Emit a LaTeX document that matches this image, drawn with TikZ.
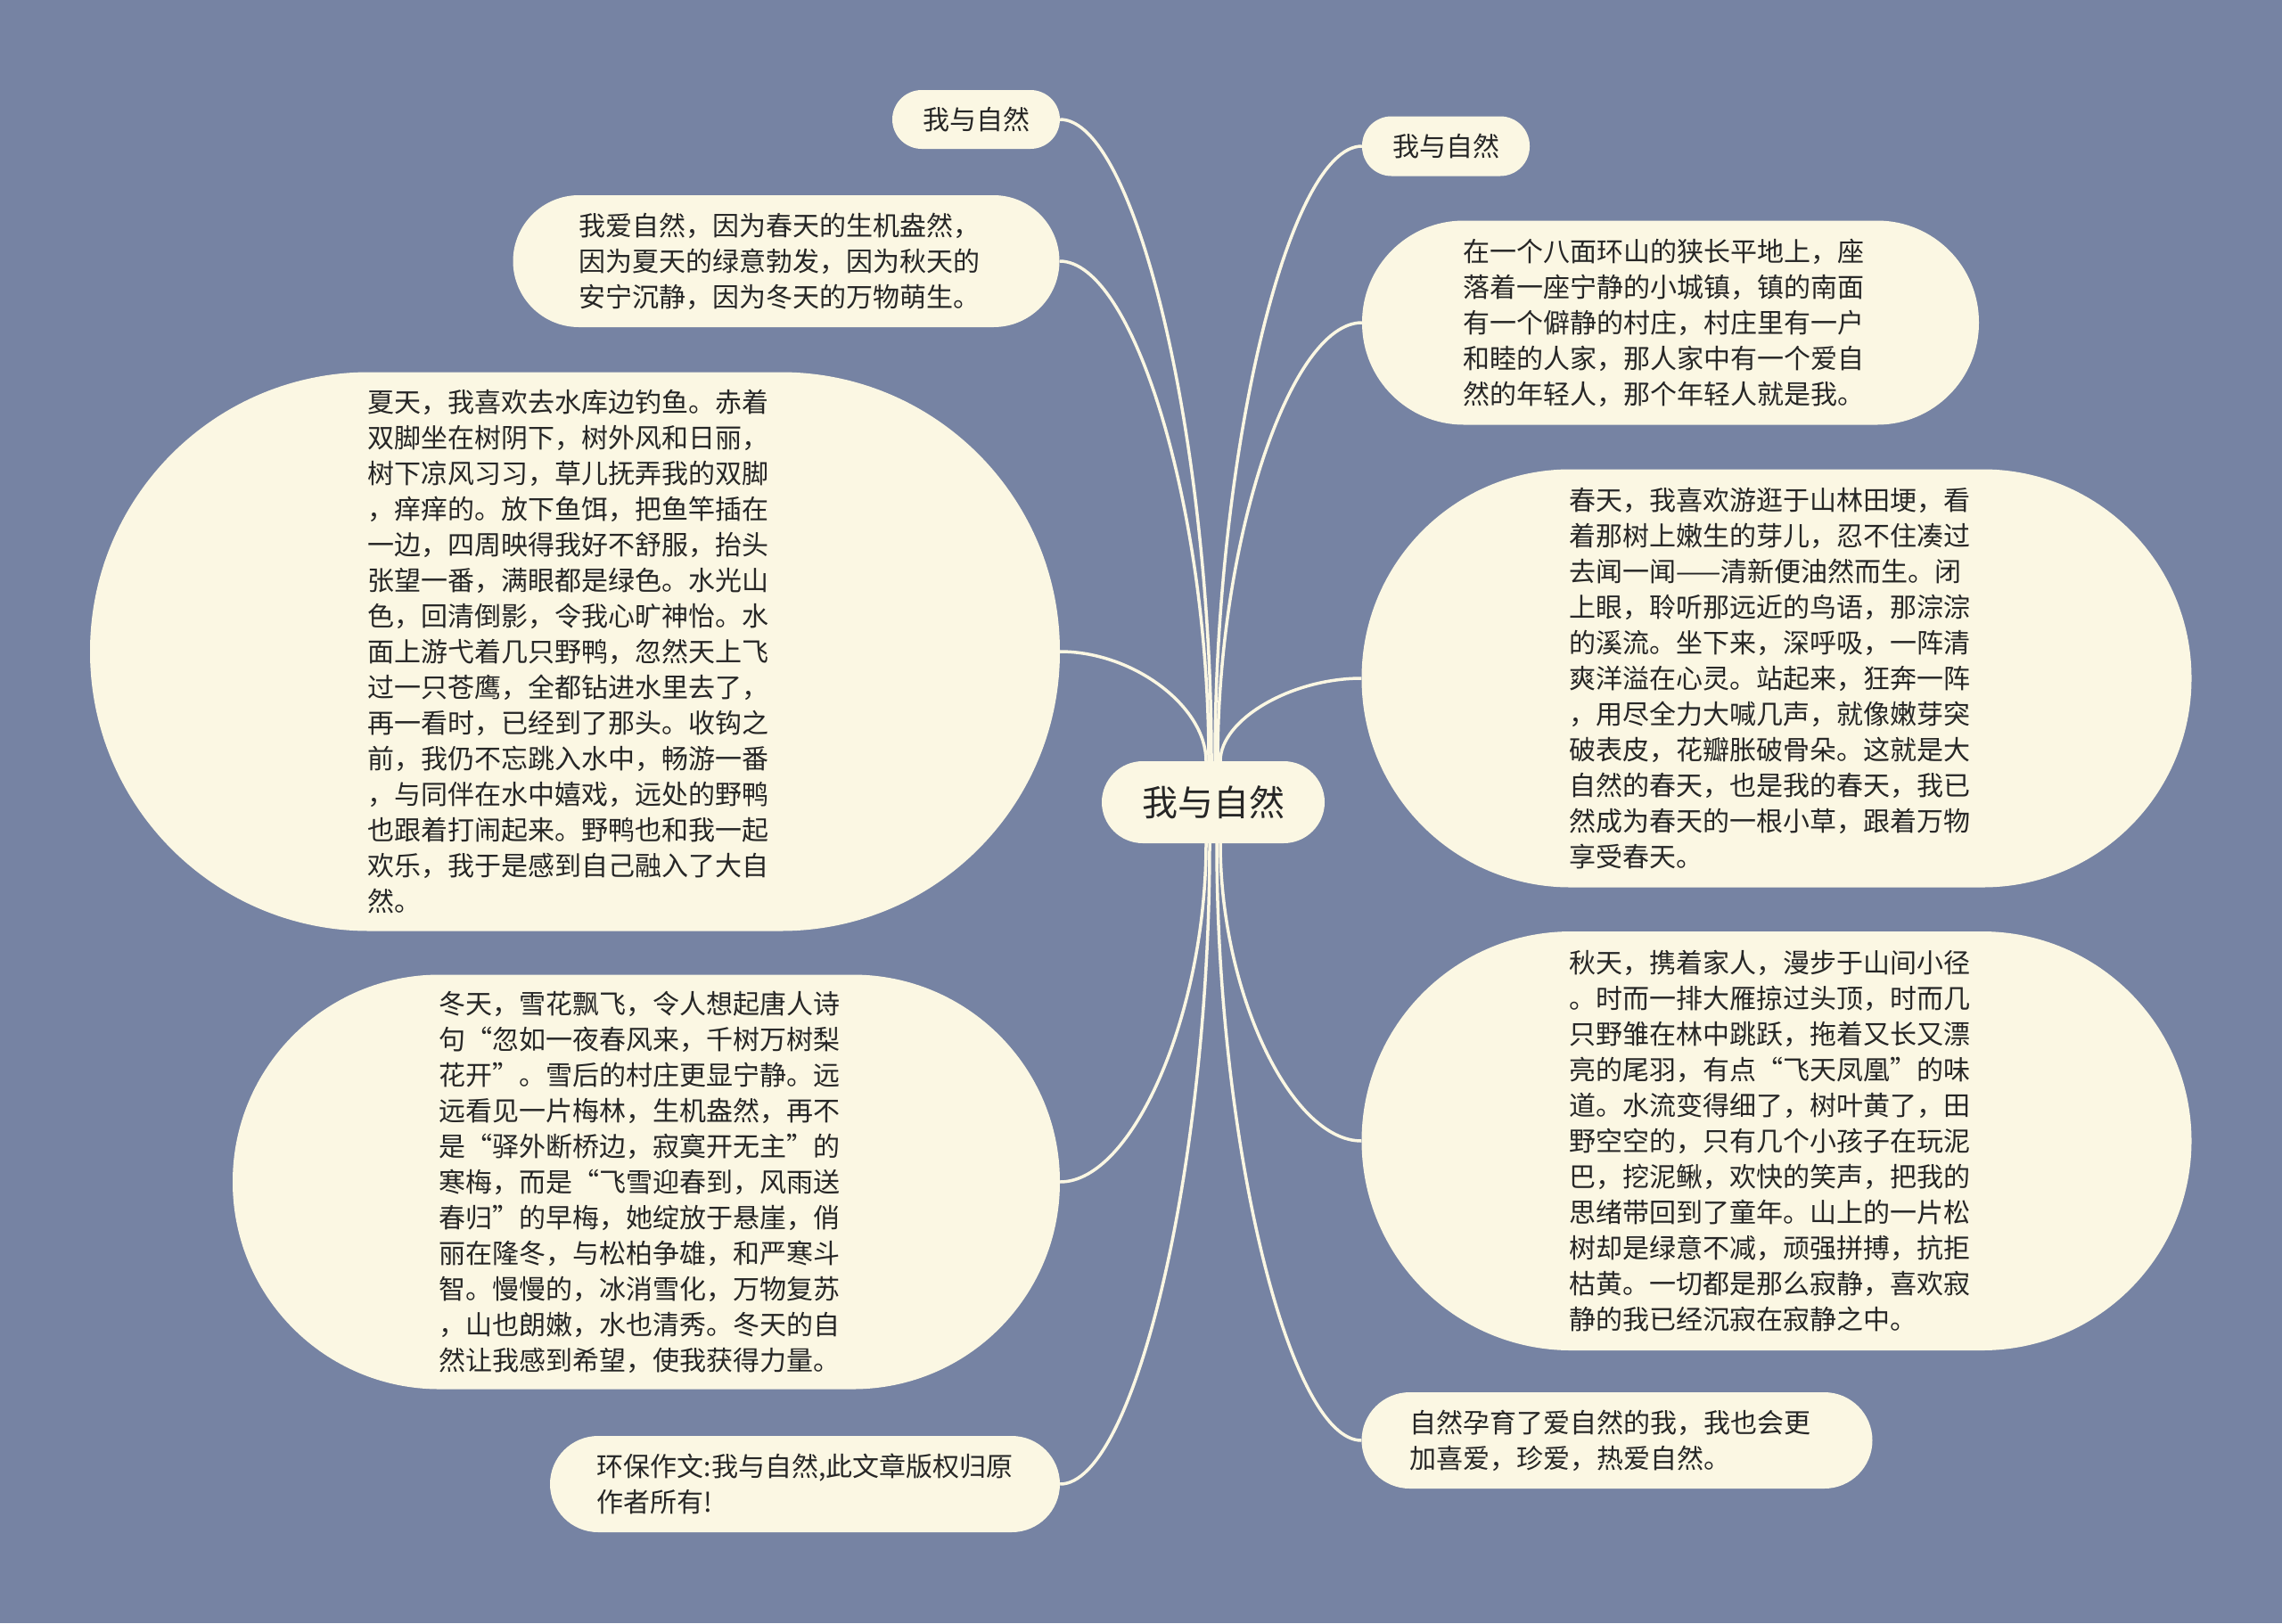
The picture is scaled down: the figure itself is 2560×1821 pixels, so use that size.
\documentclass[tikz,border=0pt]{standalone}
\usepackage{fontspec}
\usetikzlibrary{calc}
\newfontfamily\cjk{Noto Sans CJK SC}
\definecolor{bgc}{HTML}{7683A3}
\definecolor{nodefill}{HTML}{FBF7E3}
\definecolor{textc}{HTML}{262626}
\newcommand{\rpad}{\hspace*{16pt}}
\tikzset{
  topic/.style={fill=nodefill, text=textc, inner sep=0pt, align=left, font=\cjk\fontsize{30}{40}\selectfont},
  central/.style={fill=nodefill, text=textc, inner sep=0pt, font=\cjk\fontsize{40}{48}\selectfont},
  conn/.style={draw=nodefill, line width=3.5pt}
}
\begin{document}
\begin{tikzpicture}[x=1pt,y=-1pt]
\fill[bgc] (0,0) rectangle (2560,1821);
\useasboundingbox (0,0) rectangle (2560,1821);

\node[central, minimum width=250pt, minimum height=92pt, rounded corners=46pt] (C) at (1361,900) {我与自然};

\node[topic, minimum width=188pt, minimum height=66pt, rounded corners=33pt] (L1) at (1095,134) {我与自然};
\node[topic, minimum width=613pt, minimum height=148pt, rounded corners=74pt] (L2) at (882,293) {我爱自然，因为春天的生机盎然，\rpad\\因为夏天的绿意勃发，因为秋天的\\安宁沉静，因为冬天的万物萌生。};
\node[topic, minimum width=1088pt, minimum height=627pt, rounded corners=313pt] (L3) at (645,731) {夏天，我喜欢去水库边钓鱼。赤着\rpad\\双脚坐在树阴下，树外风和日丽，\\树下凉风习习，草儿抚弄我的双脚\\，痒痒的。放下鱼饵，把鱼竿插在\\一边，四周映得我好不舒服，抬头\\张望一番，满眼都是绿色。水光山\\色，回清倒影，令我心旷神怡。水\\面上游弋着几只野鸭，忽然天上飞\\过一只苍鹰，全都钻进水里去了，\\再一看时，已经到了那头。收钩之\\前，我仍不忘跳入水中，畅游一番\\，与同伴在水中嬉戏，远处的野鸭\\也跟着打闹起来。野鸭也和我一起\\欢乐，我于是感到自己融入了大自\\然。};
\node[topic, minimum width=928pt, minimum height=465pt, rounded corners=232pt] (L4) at (725,1326) {冬天，雪花飘飞，令人想起唐人诗\rpad\\句“忽如一夜春风来，千树万树梨\\花开”。雪后的村庄更显宁静。远\\远看见一片梅林，生机盎然，再不\\是“驿外断桥边，寂寞开无主”的\\寒梅，而是“飞雪迎春到，风雨送\\春归”的早梅，她绽放于悬崖，俏\\丽在隆冬，与松柏争雄，和严寒斗\\智。慢慢的，冰消雪化，万物复苏\\，山也朗嫩，水也清秀。冬天的自\\然让我感到希望，使我获得力量。};
\node[topic, minimum width=572pt, minimum height=108pt, rounded corners=54pt] (L5) at (903,1665) {环保作文:我与自然,此文章版权归原\\作者所有!};

\node[topic, minimum width=188pt, minimum height=67pt, rounded corners=33pt] (R1) at (1622,164) {我与自然};
\node[topic, minimum width=692pt, minimum height=229pt, rounded corners=114pt] (R2) at (1874,362) {在一个八面环山的狭长平地上，座\rpad\\落着一座宁静的小城镇，镇的南面\\有一个僻静的村庄，村庄里有一户\\和睦的人家，那人家中有一个爱自\\然的年轻人，那个年轻人就是我。};
\node[topic, minimum width=931pt, minimum height=469pt, rounded corners=234pt] (R3) at (1993,761) {春天，我喜欢游逛于山林田埂，看\rpad\\着那树上嫩生的芽儿，忍不住凑过\\去闻一闻——清新便油然而生。闭\\上眼，聆听那远近的鸟语，那淙淙\\的溪流。坐下来，深呼吸，一阵清\\爽洋溢在心灵。站起来，狂奔一阵\\，用尽全力大喊几声，就像嫩芽突\\破表皮，花瓣胀破骨朵。这就是大\\自然的春天，也是我的春天，我已\\然成为春天的一根小草，跟着万物\\享受春天。};
\node[topic, minimum width=931pt, minimum height=470pt, rounded corners=235pt] (R4) at (1993,1280) {秋天，携着家人，漫步于山间小径\rpad\\。时而一排大雁掠过头顶，时而几\\只野雏在林中跳跃，拖着又长又漂\\亮的尾羽，有点“飞天凤凰”的味\\道。水流变得细了，树叶黄了，田\\野空空的，只有几个小孩子在玩泥\\巴，挖泥鳅，欢快的笑声，把我的\\思绪带回到了童年。山上的一片松\\树却是绿意不减，顽强拼搏，抗拒\\枯黄。一切都是那么寂静，喜欢寂\\静的我已经沉寂在寂静之中。};
\node[topic, minimum width=573pt, minimum height=108pt, rounded corners=54pt] (R5) at (1814,1616) {自然孕育了爱自然的我，我也会更\rpad\\加喜爱，珍爱，热爱自然。};

\coordinate (sL1) at ([xshift=-2pt]C.north);
\coordinate (sL2) at ([xshift=-5pt]C.north);
\coordinate (sL3) at ([xshift=-8pt]C.north);
\coordinate (sR1) at ([xshift=2pt]C.north);
\coordinate (sR2) at ([xshift=5pt]C.north);
\coordinate (sR3) at ([xshift=8pt]C.north);
\coordinate (sL4) at ([xshift=-8pt]C.south);
\coordinate (sL5) at ([xshift=-4pt]C.south);
\coordinate (sR4) at ([xshift=8pt]C.south);
\coordinate (sR5) at ([xshift=4pt]C.south);

\foreach \n in {L1,L2,L3,L4,L5} {
  \coordinate (m\n) at ($(s\n)!0.5!(\n.east)$);
  \draw[conn] (s\n) .. controls (s\n |- m\n) and (m\n |- \n.east) .. (\n.east);
}
\foreach \n in {R1,R2,R3,R4,R5} {
  \coordinate (m\n) at ($(s\n)!0.5!(\n.west)$);
  \draw[conn] (s\n) .. controls (s\n |- m\n) and (m\n |- \n.west) .. (\n.west);
}
\end{tikzpicture}
\end{document}
